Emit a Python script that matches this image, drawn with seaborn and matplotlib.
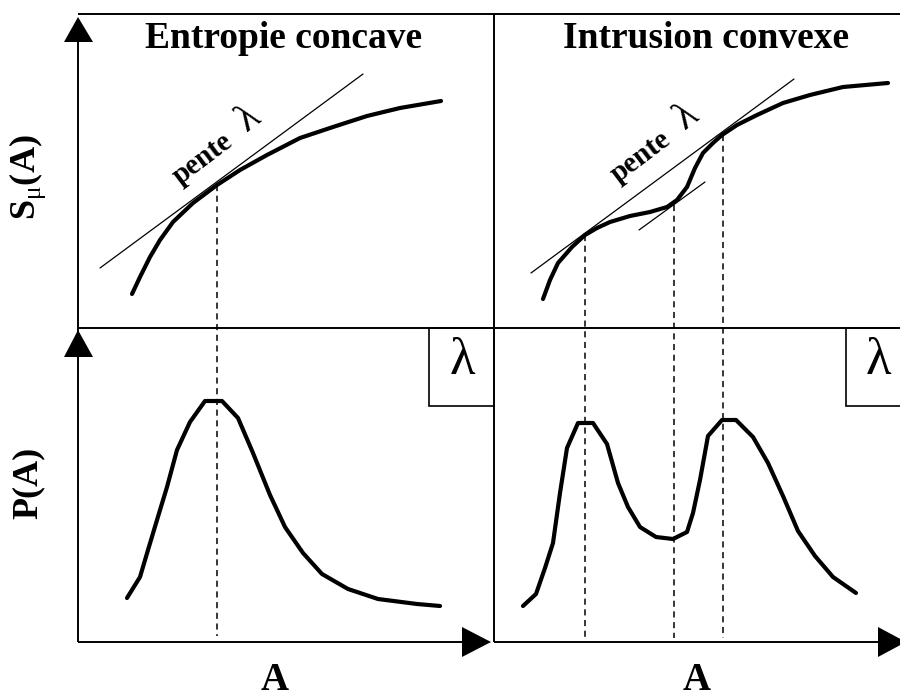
import matplotlib.pyplot as plt
import seaborn as sns
from matplotlib.patches import Polygon, Rectangle

# schematic curves (canvas units, y grows downward)
concave_A = [132, 140, 150, 160, 173, 193, 217, 240, 267, 300, 333, 367, 400, 441]
concave_S = [294, 277, 257, 240, 222, 203, 185, 170, 155, 138, 127, 116, 108, 101]
concave_tangent_A = [100, 363]
concave_tangent_S = [268, 74]
concave_peak_A = [217]

convex_A = [543, 550, 558, 572, 585, 597, 610, 630, 650, 667, 677, 687, 695, 703, 713,
            722, 737, 757, 783, 810, 843, 888]
convex_S = [299, 280, 263, 247, 235, 228, 222, 216, 212, 207, 200, 187, 168, 153, 143,
            135, 125, 115, 103, 95, 87, 83]
convex_tangent_A = [531, 794]
convex_tangent_S = [273, 79]
convex_short_tangent_A = [639, 705]
convex_short_tangent_S = [230, 182]
convex_peak_A = [585, 674, 723]
convex_peak_S = [235, 205, 135]

p_concave_A = [127, 140, 148, 157, 167, 177, 190, 205, 222, 238, 253, 270, 285, 303,
               322, 348, 378, 417, 440]
p_concave_P = [598, 577, 550, 520, 487, 450, 422, 401, 401, 418, 453, 495, 527, 553,
               574, 589, 599, 604, 606]

p_convex_A = [523, 536, 545, 553, 560, 567, 578, 593, 607, 618, 628, 640, 656, 673, 687,
              693, 700, 708, 722, 736, 753, 768, 783, 798, 815, 833, 856]
p_convex_P = [606, 594, 568, 543, 493, 448, 423, 423, 444, 483, 507, 527, 537, 539, 532,
              513, 480, 436, 420, 420, 437, 463, 496, 531, 556, 577, 593]

sns.set_style("white", rc={"text.color": "black"})
plt.rcParams["font.family"] = ["Liberation Serif", "DejaVu Serif"]
plt.rcParams["mathtext.fontset"] = "custom"
plt.rcParams["mathtext.rm"] = "Liberation Serif"
plt.rcParams["mathtext.bf"] = "Liberation Serif:bold"

fig = plt.figure(figsize=(9, 6.92), dpi=100)
ax = fig.add_axes([0, 0, 1, 1])
ax.set_xlim(0, 900)
ax.set_ylim(692, 0)
ax.axis("off")

# frame and axes
k = dict(color="black", lw=1.4, solid_capstyle="butt")
ax.plot([78, 900], [14, 14], **k)
ax.plot([78, 78], [30, 642], **k)
ax.plot([494, 494], [14, 642], **k)
ax.plot([78, 900], [328, 328], **k)
ax.plot([78, 470], [642, 642], **k)
ax.plot([494, 885], [642, 642], **k)
for tri in ([(78, 17), (64, 42), (93, 42)], [(78, 330), (64, 357), (93, 357)],
            [(491, 642), (462, 627), (462, 657)], [(906, 642), (878, 627), (878, 657)]):
    ax.add_patch(Polygon(tri, closed=True, color="black", lw=0))

# lambda boxes
ax.add_patch(Rectangle((429, 328), 65, 78, fill=False, lw=1.2, ec="black"))
ax.add_patch(Rectangle((846, 328), 60, 78, fill=False, lw=1.2, ec="black"))
ax.text(462, 361, "λ", fontsize=38, ha="center", va="center")
ax.text(878, 361, "λ", fontsize=38, ha="center", va="center")

# dashed markers for the tangency points
dash = dict(color="black", lw=1.1, ls=(0, (4, 3)))
ax.plot([concave_peak_A[0]] * 2, [185, 636], **dash)
for a, s in zip(convex_peak_A, convex_peak_S):
    ax.plot([a, a], [s, 638], **dash)

# tangents
sns.lineplot(x=concave_tangent_A, y=concave_tangent_S, ax=ax, color="black", lw=0.9)
sns.lineplot(x=convex_tangent_A, y=convex_tangent_S, ax=ax, color="black", lw=0.9)
sns.lineplot(x=convex_short_tangent_A, y=convex_short_tangent_S, ax=ax, color="black", lw=0.9)

# curves
for xs, ys in ((concave_A, concave_S), (convex_A, convex_S),
               (p_concave_A, p_concave_P), (p_convex_A, p_convex_P)):
    sns.lineplot(x=xs, y=ys, ax=ax, color="black", lw=3, sort=False, estimator=None)

# texts
ax.text(284, 38, "Entropie concave", fontsize=27, fontweight="bold", ha="center", va="center")
ax.text(706, 38, "Intrusion convexe", fontsize=27, fontweight="bold", ha="center", va="center")
ax.text(203, 159, "pente", fontsize=21, fontweight="bold", rotation=37, ha="center", va="center")
ax.text(249, 119, "λ", fontsize=29, rotation=37, ha="center", va="center")
ax.text(641, 157, "pente", fontsize=21, fontweight="bold", rotation=37, ha="center", va="center")
ax.text(687, 117, "λ", fontsize=29, rotation=37, ha="center", va="center")
ax.text(28, 177, r"$\mathbf{S}_{\mathrm{μ}}\mathbf{(A)}$", fontsize=26, rotation=90,
        ha="center", va="center")
ax.text(28, 483, "P(A)", fontsize=26, fontweight="bold", rotation=90, ha="center", va="center")
ax.text(275, 662, "A", fontsize=28, fontweight="bold", ha="center", va="top")
ax.text(697, 662, "A", fontsize=28, fontweight="bold", ha="center", va="top")

plt.savefig("out.png", dpi=100)
